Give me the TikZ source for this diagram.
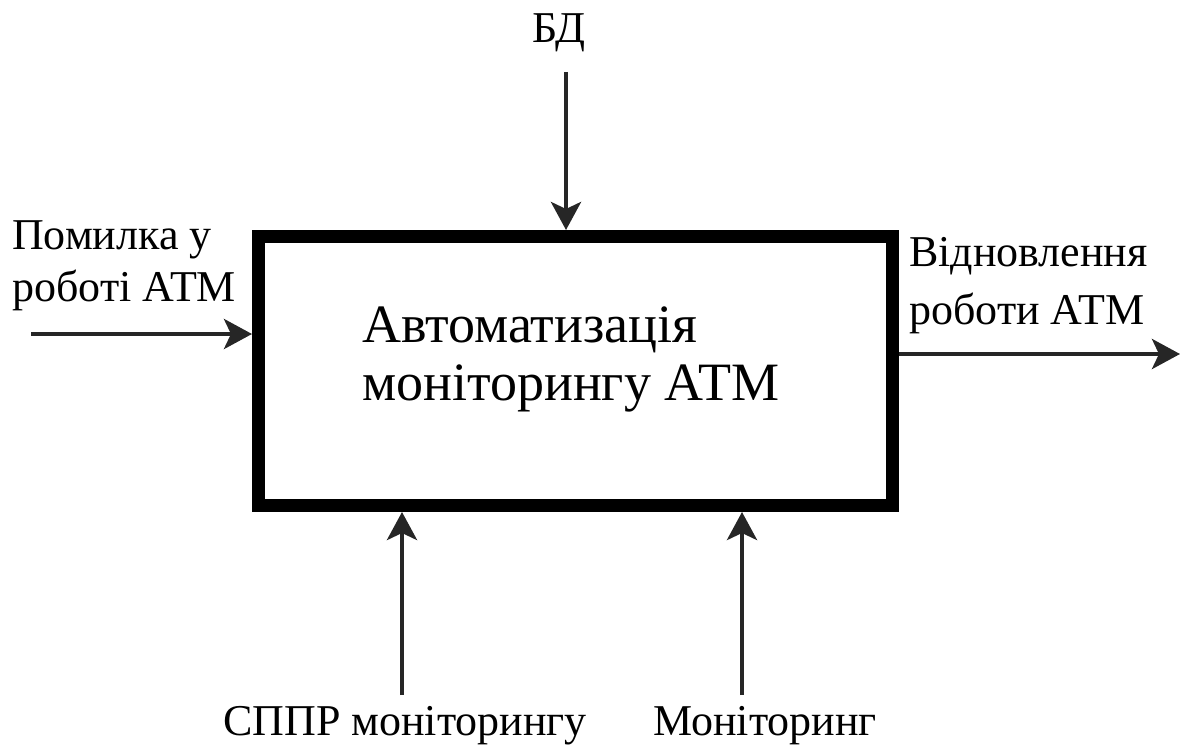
\documentclass[tikz,border=0pt]{standalone}
\usepackage{fontspec}
\setmainfont{Liberation Serif}
\usetikzlibrary{arrows.meta}
\tikzset{
  mainbox/.style={draw=black, line width=13pt, minimum width=634pt, minimum height=269pt, inner sep=0pt},
  lbl/.style={inner sep=0pt, align=left, font=\fontsize{44}{52}\selectfont},
  lblr/.style={inner sep=0pt, align=left, font=\fontsize{44}{58}\selectfont},
  big/.style={inner sep=0pt, align=left, font=\fontsize{54}{58}\selectfont},
  flow/.style={draw=black!85, line width=4.5pt, -{Stealth[length=28pt,width=30pt,inset=7pt]}}
}
\begin{document}
\begin{tikzpicture}[x=1pt,y=-1pt]
\useasboundingbox (0,0) rectangle (1182,746);
\node[mainbox] (box) at (575.5,371) {};
\node[big, anchor=base west] (title) at (362,400) {Автоматизація\\моніторингу АТМ};
% labels
\node[lbl, anchor=base] (bd) at (559,43) {БД};
\node[lbl, anchor=base west] (inlbl) at (12,301) {Помилка у\\роботі АТМ};
\node[lblr, anchor=base west] (outlbl) at (909,324) {Відновлення\\роботи АТМ};
\node[lbl, anchor=base west] (sppr) at (223,735) {СППР моніторингу};
\node[lbl, anchor=base west] (mon) at (653,735) {Моніторинг};
% free ends
\coordinate (topS) at (566,72);
\coordinate (inS) at (31,334);
\coordinate (outE) at (1180,354);
\coordinate (b1S) at (402,695);
\coordinate (b2S) at (742,695);
% arrows
\draw[flow] (topS) -- (topS |- box.north);
\draw[flow] (inS) -- (inS -| box.west);
\draw[flow] (outE -| box.east) -- (outE);
\draw[flow] (b1S) -- (b1S |- box.south);
\draw[flow] (b2S) -- (b2S |- box.south);
\end{tikzpicture}
\end{document}
